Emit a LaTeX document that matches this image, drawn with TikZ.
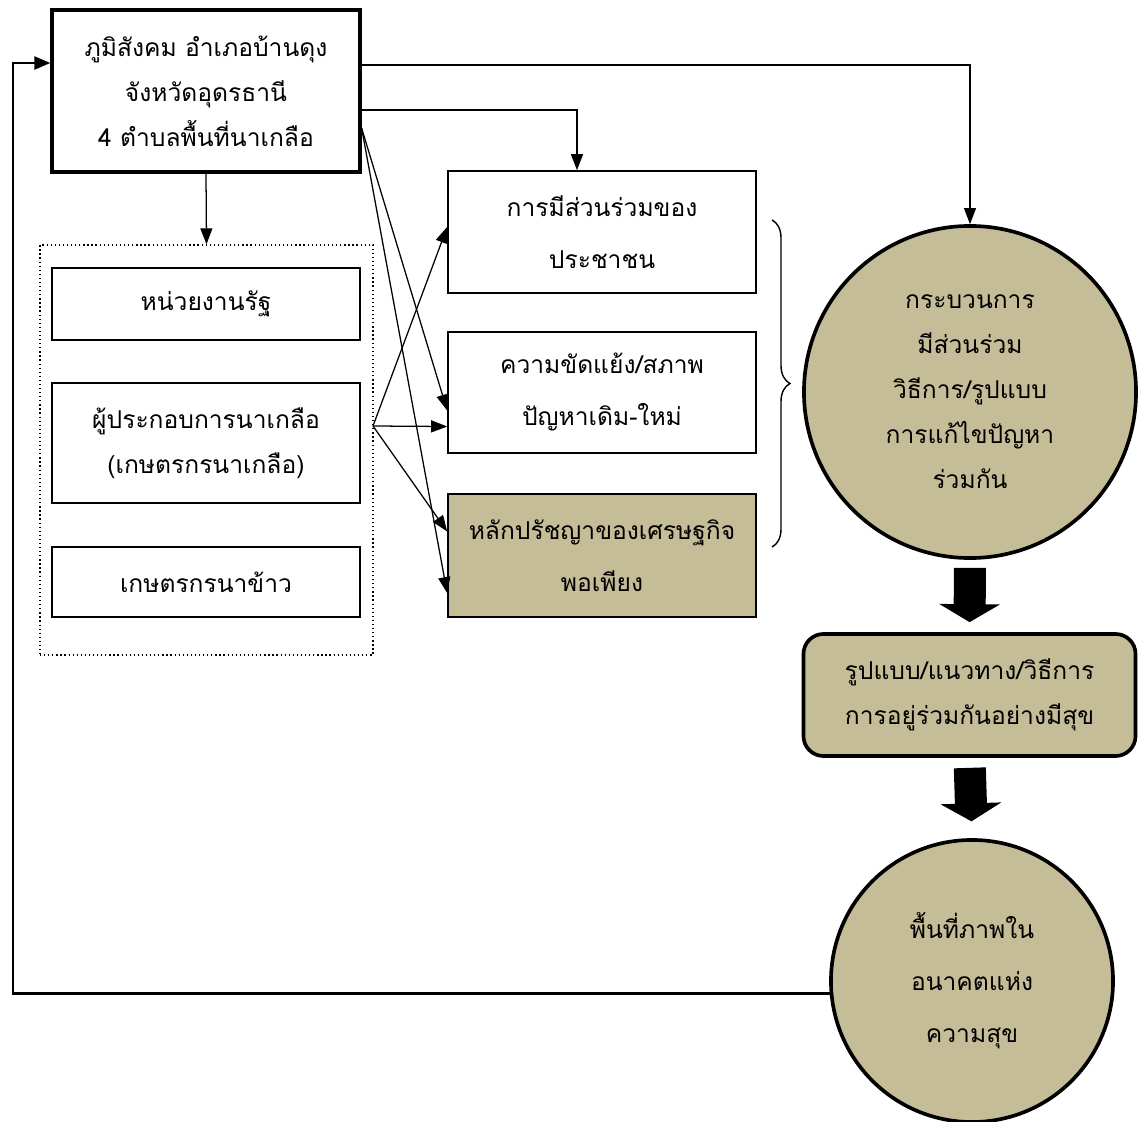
\documentclass[tikz,border=0pt]{standalone}
\usepackage{fontspec}
\newfontfamily\thai[Script=Thai]{Loma}
\usetikzlibrary{arrows.meta,decorations.pathreplacing}
\definecolor{tanfill}{HTML}{C4BD97}

\tikzset{
	arr/.style={line width=0.9pt,-{Triangle[length=4mm,width=3mm]}},
	box/.style={draw,line width=1.1pt,minimum width=7.7cm,align=center,inner sep=2pt,
		font=\thai\fontsize{17.5}{37}\selectfont},
	boxtight/.style={box,font=\thai\fontsize{17.5}{32}\selectfont},
	group/.style={draw,dotted,line width=0.9pt,minimum width=8.325cm,minimum height=10.25cm,inner sep=0pt},
	bubble/.style={circle,draw,line width=2.6pt,fill=tanfill,align=center,inner sep=0pt},
	blockarrow/.style={line width=0.8cm,-{Triangle[width=1.5cm,length=0.45cm]}}
}

\begin{document}
\begin{tikzpicture}[x=0.025cm,y=-0.025cm]
	\useasboundingbox (0,0) rectangle (1138,1122);
	
	% left column
	\node[boxtight,line width=2.2pt,minimum height=4.05cm] (top) at (206,91)
		{ภูมิสังคม อำเภอบ้านดุง\\จังหวัดอุดรธานี\\4 ตำบลพื้นที่นาเกลือ};
	\node[group] (group) at (206.5,450) {};
	\node[box,minimum height=1.8cm] (state) at (206,304) {หน่วยงานรัฐ};
	\node[boxtight,minimum height=3cm] (salt) at (206,443) {ผู้ประกอบการนาเกลือ\\(เกษตรกรนาเกลือ)};
	\node[box,minimum height=1.75cm] (rice) at (206,582) {เกษตรกรนาข้าว};
	
	% middle column
	\node[box,minimum height=3.05cm] (part) at (602,232) {การมีส่วนร่วมของ\\ประชาชน};
	\node[box,minimum height=3.025cm] (conflict) at (602,392.5) {ความขัดแย้ง/สภาพ\\ปัญหาเดิม-ใหม่};
	\node[box,fill=tanfill,minimum height=3.075cm] (philo) at (602,555.5) {หลักปรัชญาของเศรษฐกิจ\\พอเพียง};
	
	% right column
	\node[bubble,minimum size=8.3cm,font=\thai\fontsize{17.5}{32}\selectfont] (proc) at (970,392)
		{กระบวนการ\\มีส่วนร่วม\\วิธีการ/รูปแบบ\\การแก้ไขปัญหา\\ร่วมกัน};
	\node[draw,rounded corners=0.5cm,line width=2.6pt,fill=tanfill,minimum width=8.3cm,minimum height=3.05cm,
		align=center,font=\thai\fontsize{17.5}{32}\selectfont] (way) at (969.5,695)
		{รูปแบบ/แนวทาง/วิธีการ\\การอยู่ร่วมกันอย่างมีสุข};
	\node[bubble,minimum size=7.05cm,font=\thai\fontsize{17.5}{37}\selectfont] (future) at (972,981)
		{พื้นที่ภาพใน\\อนาคตแห่ง\\ความสุข};
	
	\coordinate (hub) at (373,426);
	\coordinate (fb) at (13,63);
	
	% connectors
	\draw[arr] (top.south) -- (group.north);
	\draw[arr] ([yshift=0.65cm]top.east) -| (proc.north);
	\draw[arr] ([yshift=-0.475cm]top.east) -| ([xshift=-0.625cm]part.north);
	\draw[arr] ([yshift=-0.925cm]top.east) -- ([yshift=-0.45cm]conflict.west);
	\draw[arr] ([yshift=-0.925cm]top.east) -- ([yshift=-0.94cm]philo.west);
	\draw[arr] (hub) -- ([yshift=0.125cm]part.west);
	\draw[arr] (hub) -- ([yshift=-0.85cm]conflict.west);
	\draw[arr] (hub) -- ([yshift=0.6cm]philo.west);
	
	\draw[decorate,decoration={brace,amplitude=0.45cm},line width=1pt] (772,220) -- (772,547);
	
	\draw[blockarrow,shorten <=0.2cm,shorten >=0.25cm] (proc.south) -- (way.north);
	\draw[blockarrow,shorten <=0.25cm,shorten >=0.42cm] (way.south) -- (future.north);
	
	\draw[line width=2pt,-{Triangle[length=4mm,width=3.2mm]}] (future.185) -| (fb) -- (fb -| top.west);
\end{tikzpicture}
\end{document}
